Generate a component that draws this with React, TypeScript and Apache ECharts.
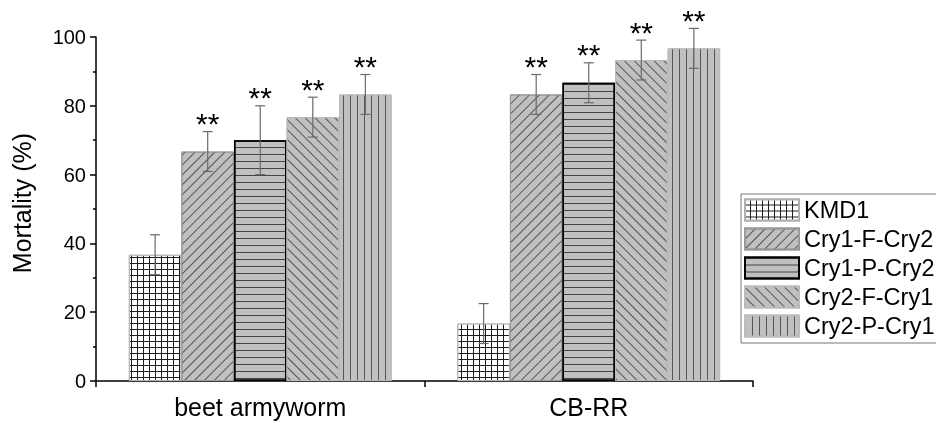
import React, { useEffect, useRef } from "react";
import * as echarts from "echarts";

const categories = ["beet armyworm", "CB-RR"];
const seriesNames = ["KMD1", "Cry1-F-Cry2", "Cry1-P-Cry2", "Cry2-F-Cry1", "Cry2-P-Cry1"];
const kmd1 = [36.7, 16.7];
const cry1FCry2 = [66.7, 83.3];
const cry1PCry2 = [70.0, 86.7];
const cry2FCry1 = [76.7, 93.3];
const cry2PCry1 = [83.3, 96.7];
const kmd1Err = [5.8, 5.8];
const cry1FCry2Err = [5.8, 5.8];
const cry1PCry2Err = [10.0, 5.8];
const cry2FCry1Err = [5.8, 5.8];
const cry2PCry1Err = [5.8, 5.8];
const kmd1Sig = ["", ""];
const cry1FCry2Sig = ["**", "**"];
const cry1PCry2Sig = ["**", "**"];
const cry2FCry1Sig = ["**", "**"];
const cry2PCry1Sig = ["**", "**"];
const yMin = 0;
const yMax = 100;
const yInterval = 20;

const FONT = "'Liberation Sans', Arial, sans-serif";

export default function App() {
  const ref = useRef<HTMLDivElement>(null);
  useEffect(() => {
    if (!ref.current) return;
    const chart = echarts.init(ref.current, undefined, { renderer: "svg" });
    const values = [kmd1, cry1FCry2, cry1PCry2, cry2FCry1, cry2PCry1];
    const errs = [kmd1Err, cry1FCry2Err, cry1PCry2Err, cry2FCry1Err, cry2PCry1Err];
    const sigs = [kmd1Sig, cry1FCry2Sig, cry1PCry2Sig, cry2FCry1Sig, cry2PCry1Sig];
    const n = seriesNames.length;

    const styles: any[] = [
      {
        color: "#1e1e1e",
        borderColor: "#b0b0b0",
        borderWidth: 1,
        decal: { symbol: "rect", color: "#ffffff", dashArrayX: [4.3, 1], dashArrayY: [4.3, 1], symbolSize: 1, rotation: 0 },
      },
      {
        color: "#c0c0c0",
        borderColor: "#999999",
        borderWidth: 1,
        decal: { symbol: "rect", color: "#555555", dashArrayX: [1, 0], dashArrayY: [1, 5.4], symbolSize: 1, rotation: -Math.PI / 4 },
      },
      {
        color: "#c0c0c0",
        borderColor: "#000000",
        borderWidth: 1.5,
        decal: { symbol: "rect", color: "#444444", dashArrayX: [1, 0], dashArrayY: [1, 5.7], symbolSize: 1, rotation: 0 },
      },
      {
        color: "#c0c0c0",
        borderColor: "#bbbbbb",
        borderWidth: 1,
        decal: { symbol: "rect", color: "#555555", dashArrayX: [1, 0], dashArrayY: [1, 5.4], symbolSize: 1, rotation: Math.PI / 4 },
      },
      {
        color: "#c0c0c0",
        borderColor: "#bbbbbb",
        borderWidth: 1,
        decal: { symbol: "rect", color: "#555555", dashArrayX: [1, 5.7], dashArrayY: [1, 0], symbolSize: 1, rotation: 0 },
      },
    ];

    const errData: any[] = [];
    const errSig: string[] = [];
    values.forEach((vals, s) =>
      vals.forEach((v, c) => {
        errData.push([c, v, errs[s][c], s]);
        errSig.push(sigs[s][c]);
      })
    );

    const barSeries = seriesNames.map((name, i) => ({
      name,
      type: "bar",
      data: values[i],
      barGap: "0%",
      barCategoryGap: "20%",
      itemStyle: styles[i],
      z: 2,
    }));

    chart.setOption({
      animation: false,
      aria: { enabled: false, decal: { show: false } },
      textStyle: { fontFamily: FONT },
      grid: { left: 96, right: 183, top: 37, bottom: 42 },
      legend: {
        orient: "vertical",
        left: 741,
        top: 194,
        itemWidth: 54,
        itemHeight: 21,
        itemGap: 5,
        padding: [4, 40, 5, 3],
        borderColor: "#777777",
        borderWidth: 1,
        textStyle: { fontSize: 23.5, color: "#000", fontFamily: FONT },
        icon: "rect",
        data: seriesNames,
      },
      xAxis: {
        type: "category",
        data: categories,
        axisLine: { lineStyle: { color: "#000", width: 1.5 } },
        axisTick: { show: true, length: 6, lineStyle: { color: "#000", width: 1.5 } },
        axisLabel: { fontSize: 25, color: "#000", margin: 13, fontFamily: FONT },
      },
      yAxis: {
        type: "value",
        min: yMin,
        max: yMax,
        interval: yInterval,
        name: "Mortality (%)",
        nameLocation: "middle",
        nameGap: 62,
        nameTextStyle: { fontSize: 25, color: "#000", fontFamily: FONT, padding: [0, 0, 0, 12] },
        axisLine: { show: true, lineStyle: { color: "#000", width: 1.5 } },
        axisTick: { show: true, length: 6, lineStyle: { color: "#000", width: 1.5 } },
        minorTick: { show: true, splitNumber: 2, length: 3, lineStyle: { color: "#000", width: 1.5 } },
        splitLine: { show: false },
        axisLabel: { fontSize: 20, color: "#000", margin: 10, fontFamily: FONT },
      },
      series: [
        ...barSeries,
        {
          type: "custom",
          name: "err",
          z: 5,
          clip: false,
          silent: true,
          data: errData,
          renderItem: (params: any, api: any) => {
            const c = api.value(0);
            const v = api.value(1);
            const e = api.value(2);
            const s = api.value(3);
            const band = api.size([1, 0])[0];
            const bw = (band * 0.8) / n;
            const center = api.coord([c, v]);
            const x = center[0] + (s - (n - 1) / 2) * bw;
            const top = api.coord([c, v + e])[1];
            const bot = api.coord([c, v - e])[1];
            const cap = 5;
            const ls = { stroke: "#6a6a6a", lineWidth: 1.2 };
            const children: any[] = [
              { type: "line", shape: { x1: x, y1: top, x2: x, y2: bot }, style: ls },
              { type: "line", shape: { x1: x - cap, y1: top, x2: x + cap, y2: top }, style: ls },
              { type: "line", shape: { x1: x - cap, y1: bot, x2: x + cap, y2: bot }, style: ls },
            ];
            const sig = errSig[params.dataIndex];
            if (sig) {
              children.push({
                type: "text",
                style: {
                  text: sig,
                  x,
                  y: top + 7,
                  align: "center",
                  verticalAlign: "bottom",
                  fontSize: 30,
                  fontFamily: FONT,
                  fill: "#000",
                },
              });
            }
            return { type: "group", children };
          },
        },
      ],
    });
    return () => chart.dispose();
  }, []);
  return <div ref={ref} style={{ position: "fixed", left: 0, top: 0, width: 936, height: 423 }} />;
}
